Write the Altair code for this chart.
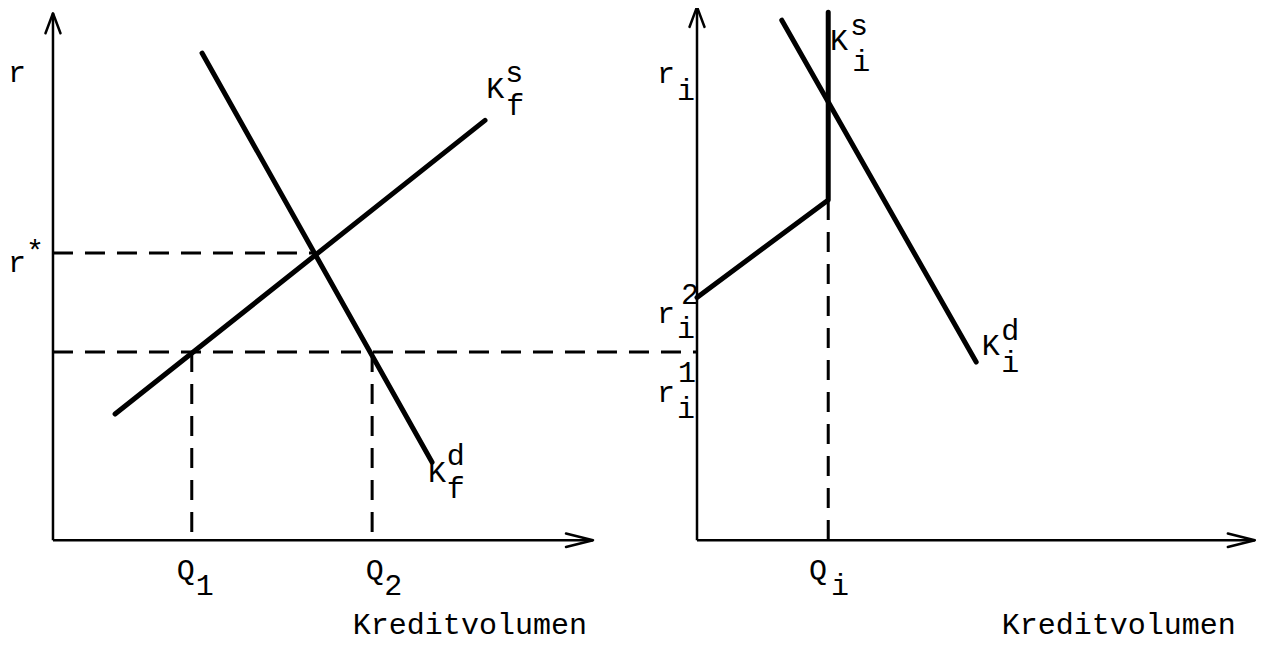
import altair as alt
import pandas as pd

FONT = "Liberation Mono"

# ---------------- data-space domains of the two panels ----------------
L_DOMAIN_X = [-8.33, 105.0]
R_DOMAIN_X = [-14.26, 103.7]
Y_DOMAIN = [-19.2, 100.4]

# ---------------- left panel: whole credit market ----------------
ks_f_x = [11.5, 80.0]
ks_f_y = [23.8, 79.2]
kd_f_x = [27.6, 70.2]
kd_f_y = [91.9, 14.7]
r_star = 54.2
r_star_cross = 48.5
r_low = 35.5
q1 = 25.7
q2 = 59.1
left_dash_reach = 119.3      # the r-level line runs on to the right panel's axis
left_x_tip = 100.0
left_y_tip = 99.4

left_label_text = ["r", "r", "*", "Q", "1", "Q", "2", "K", "s", "f", "K", "d", "f", "Kreditvolumen"]
left_label_x = [-6.67, -6.67, -3.33, 24.6, 28.1, 59.6, 63.0, 81.9, 85.4, 85.6, 71.1, 74.6, 74.6, 77.2]
left_label_y = [86.4, 50.6, 52.6, -7.5, -10.4, -7.5, -10.4, 83.4, 86.4, 80.2, 10.9, 14.2, 7.9, -17.7]

# ---------------- right panel: market i ----------------
ks_i_x = [0.0, 24.3, 24.3]
ks_i_y = [45.8, 64.2, 99.6]
kd_i_x = [15.7, 51.7]
kd_i_y = [98.1, 33.6]
q_i = 24.3
ks_i_kink = 64.2
right_x_tip = 103.3
right_y_tip = 100.6

right_label_text = ["r", "i", "r", "2", "i", "r", "1", "i", "Q", "i", "K", "s", "i", "K", "d", "i", "Kreditvolumen"]
right_label_x = [-5.74, -2.04, -5.74, -1.3, -2.04, -5.74, -1.85, -2.04, 22.4, 26.5, 26.3, 30.0, 30.4, 54.4, 58.0, 58.0, 78.1]
right_label_y = [86.2, 83.0, 40.9, 44.5, 38.1, 26.0, 29.8, 23.0, -7.5, -10.4, 92.5, 95.4, 88.6, 34.9, 37.7, 31.7, -17.7]

H_ARROW = "M-2,-0.5L0,0L-2,0.5"
V_ARROW = "M-2,-0.75L0,0L-2,0.75"


def curves_df(series):
    rows = []
    for name, xs, ys in series:
        for i, (x, y) in enumerate(zip(xs, ys)):
            rows.append({"series": name, "i": i, "x": x, "y": y})
    return pd.DataFrame(rows)


def panel(xscale, curves, dashes, x_tip, y_tip, labels):
    yscale = alt.Scale(domain=Y_DOMAIN, nice=False, zero=False)
    X = lambda f: alt.X(f, type="quantitative", scale=xscale, axis=None)
    Y = lambda f: alt.Y(f, type="quantitative", scale=yscale, axis=None)

    dash_layer = alt.Chart(dashes).mark_rule(
        color="black", strokeWidth=3, strokeDash=[20, 12]
    ).encode(x=X("x"), x2="x2", y=Y("y"), y2="y2")

    axes = pd.DataFrame({"x": [0, 0], "x2": [x_tip, 0], "y": [0, 0], "y2": [0, y_tip]})
    axis_layer = alt.Chart(axes).mark_rule(color="black", strokeWidth=2.5).encode(
        x=X("x"), x2="x2", y=Y("y"), y2="y2"
    )

    harrow = alt.Chart(pd.DataFrame({"x": [x_tip], "y": [0]})).mark_point(
        shape=H_ARROW, size=729, filled=False, stroke="black", strokeWidth=2.5,
        opacity=1, strokeJoin="round", strokeCap="round"
    ).encode(x=X("x"), y=Y("y"))
    varrow = alt.Chart(pd.DataFrame({"x": [0], "y": [y_tip]})).mark_point(
        shape=V_ARROW, size=400, angle=270, filled=False, stroke="black", strokeWidth=2.5,
        opacity=1, strokeJoin="round", strokeCap="round"
    ).encode(x=X("x"), y=Y("y"))

    curve_layer = alt.Chart(curves).mark_line(
        color="black", strokeWidth=5, strokeCap="round", strokeJoin="round"
    ).encode(x=X("x"), y=Y("y"), detail="series:N", order="i:Q")

    text_layer = alt.Chart(labels).mark_text(
        font=FONT, fontSize=30, align="center", baseline="alphabetic", color="black"
    ).encode(x=X("x"), y=Y("y"), text="t:N")

    return alt.layer(dash_layer, axis_layer, harrow, varrow, curve_layer, text_layer)


LX = alt.Scale(domain=L_DOMAIN_X, range=[0, 612], nice=False, zero=False)
RX = alt.Scale(domain=R_DOMAIN_X, range=[612, 1249], nice=False, zero=False)

left_curves = curves_df([("Ks_f", ks_f_x, ks_f_y), ("Kd_f", kd_f_x, kd_f_y)])
left_dashes = pd.DataFrame({
    "x": [0, 0, q1, q2],
    "x2": [r_star_cross, left_dash_reach, q1, q2],
    "y": [r_star, r_low, r_low, r_low],
    "y2": [r_star, r_low, 0, 0],
})
left_labels = pd.DataFrame({"t": left_label_text, "x": left_label_x, "y": left_label_y})

right_curves = curves_df([("Ks_i", ks_i_x, ks_i_y), ("Kd_i", kd_i_x, kd_i_y)])
right_dashes = pd.DataFrame({"x": [q_i], "x2": [q_i], "y": [ks_i_kink], "y2": [0]})
right_labels = pd.DataFrame({"t": right_label_text, "x": right_label_x, "y": right_label_y})

left = panel(LX, left_curves, left_dashes, left_x_tip, left_y_tip, left_labels)
right = panel(RX, right_curves, right_dashes, right_x_tip, right_y_tip, right_labels)

chart = alt.layer(left, right).resolve_scale(x="independent").properties(
    width=1249, height=634, autosize=alt.AutoSizeParams(type="none"), padding=0,
    background="white"
).configure_view(strokeWidth=0)

chart.save("out.html", embed_options={"renderer": "svg", "actions": False})
